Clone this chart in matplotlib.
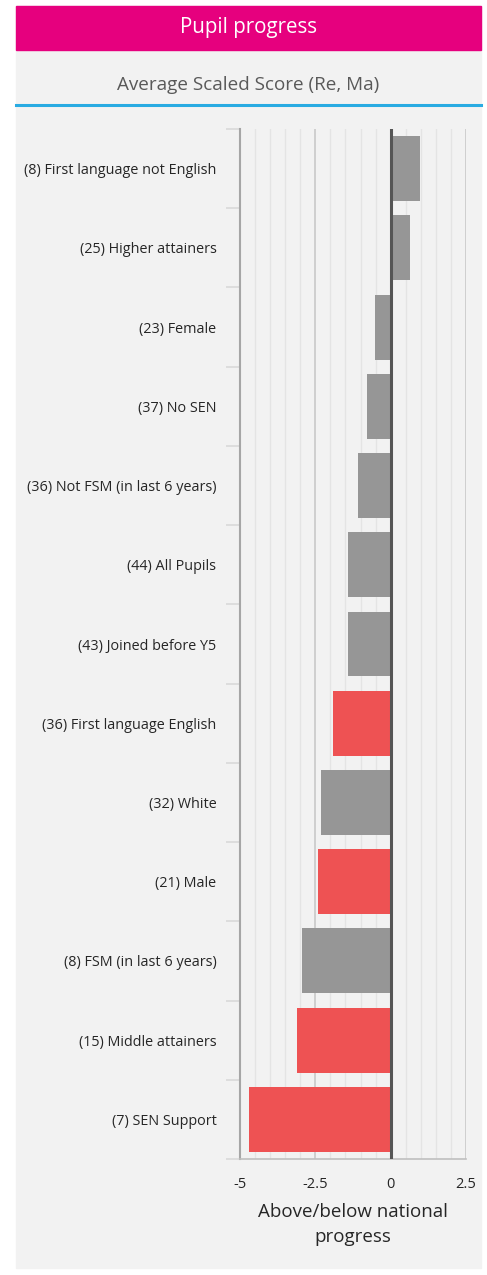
import matplotlib
matplotlib.use("Agg")
import matplotlib.pyplot as plt
from matplotlib.patches import Rectangle
from matplotlib.lines import Line2D

plt.rcParams['font.family'] = ['Open Sans', 'DejaVu Sans']

# data (top to bottom)
categories = [
    "(8) First language not English",
    "(25) Higher attainers",
    "(23) Female",
    "(37) No SEN",
    "(36) Not FSM (in last 6 years)",
    "(44) All Pupils",
    "(43) Joined before Y5",
    "(36) First language English",
    "(32) White",
    "(21) Male",
    "(8) FSM (in last 6 years)",
    "(15) Middle attainers",
    "(7) SEN Support",
]
values = [0.97, 0.63, -0.53, -0.8, -1.1, -1.43, -1.43, -1.93, -2.3, -2.4, -2.93, -3.1, -4.7]
highlight = [False, False, False, False, False, False, False, True, False, True, False, True, True]
x_ticks = [-5, -2.5, 0, 2.5]
x_tick_labels = ["-5", "-2.5", "0", "2.5"]

GREY = "#969696"
RED = "#EE5253"
PINK = "#E6007E"
BLUE = "#29ABE2"
BG = "#F2F2F2"

W, H = 487, 1275
fig = plt.figure(figsize=(W / 100, H / 100), dpi=100)
fig.patch.set_facecolor("white")

# card background, header and subtitle band
fig.patches.append(Rectangle((16 / W, 1 - 1268 / H), 465 / W, 1262 / H,
                             transform=fig.transFigure, color=BG, zorder=-2))
fig.patches.append(Rectangle((16 / W, 1 - 50 / H), 465 / W, 44 / H,
                             transform=fig.transFigure, color=PINK, zorder=-1))
fig.lines.append(Line2D([16 / W, 481 / W], [1 - 105 / H, 1 - 105 / H],
                        transform=fig.transFigure, color=BLUE, lw=2.2, zorder=-1))
fig.text(248 / W, 1 - 28 / H, "Pupil progress", color="white", fontsize=14.8,
         ha="center", va="center")
fig.text(248 / W, 1 - 85 / H, "Average Scaled Score (Re, Ma)", color="#595959",
         fontsize=13.6, ha="center", va="center")

ax = fig.add_axes([240 / W, 1 - 1159 / H, 226 / W, 1030 / H])
ax.set_zorder(2)
ax.set_facecolor(BG)

n = len(categories)
ypos = list(range(n))
colors = [RED if h else GREY for h in highlight]
ax.barh(ypos, values, height=0.82, color=colors, zorder=3)

ax.set_xlim(-5, 2.5)
ax.set_ylim(n - 0.5, -0.5)

# vertical gridlines
for i in range(16):
    gx = -5 + i * 0.5
    if gx in (-2.5, 2.5):
        ax.axvline(gx, color="#C8C8C8", lw=1.2, zorder=1)
    elif gx != -5:
        ax.axvline(gx, color="#E4E4E4", lw=1.0, zorder=1)
ax.axvline(0, color="#555555", lw=2.2, zorder=4)

ax.set_xticks(x_ticks)
ax.set_xticklabels(x_tick_labels, fontsize=10.5, color="#262626")
ax.tick_params(axis="x", length=0, pad=13)

ax.set_yticks(ypos)
ax.set_yticklabels(categories, fontsize=10.4, color="#262626")
ax.set_yticks([i + 0.5 for i in range(-1, n)], minor=True)
ax.tick_params(axis="y", which="major", length=0, pad=17)
ax.tick_params(axis="y", which="minor", length=10, width=1.2, color="#D9D9D9")

for side in ("top", "right"):
    ax.spines[side].set_visible(False)
ax.spines["left"].set_color("#A6A6A6")
ax.spines["left"].set_linewidth(1.5)
ax.spines["bottom"].set_color("#BFBFBF")
ax.spines["bottom"].set_linewidth(1.2)

ax.set_xlabel("Above/below national\nprogress", fontsize=13.5, color="#262626",
              labelpad=8, linespacing=1.5)

fig.savefig("out.png", dpi=100, facecolor=fig.get_facecolor())
